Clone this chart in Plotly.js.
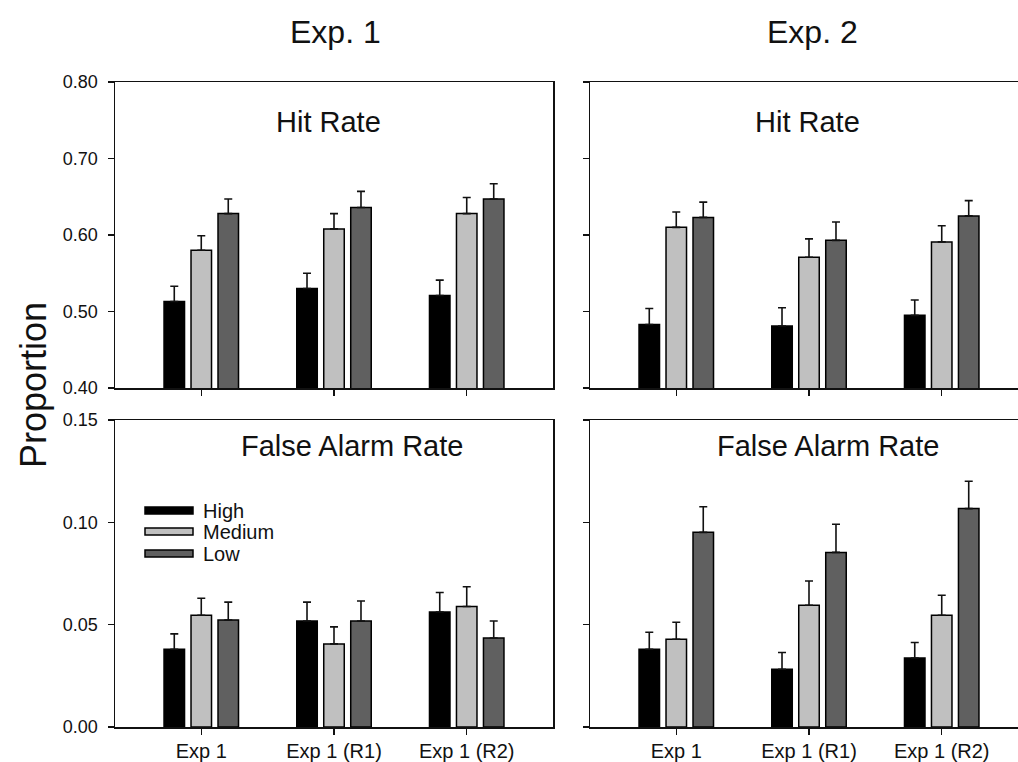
<!DOCTYPE html>
<html>
<head>
<meta charset="utf-8">
<script src="https://cdn.plot.ly/plotly-3.0.1.min.js"></script>
<style>
  html, body { margin: 0; padding: 0; overflow: hidden; background: #fff; }
  #chart { width: 1040px; height: 762px; }
</style>
</head>
<body>
<div id="chart"></div>
<script>
// ---- data ----
const categories = ['Exp 1', 'Exp 1 (R1)', 'Exp 1 (R2)'];
const seriesNames = ['High', 'Medium', 'Low'];

const exp1HitHigh = [0.513, 0.530, 0.521];
const exp1HitHighErr = [0.020, 0.020, 0.020];
const exp1HitMed = [0.580, 0.608, 0.628];
const exp1HitMedErr = [0.019, 0.020, 0.021];
const exp1HitLow = [0.628, 0.636, 0.647];
const exp1HitLowErr = [0.019, 0.021, 0.020];

const exp2HitHigh = [0.483, 0.481, 0.495];
const exp2HitHighErr = [0.021, 0.024, 0.020];
const exp2HitMed = [0.610, 0.571, 0.591];
const exp2HitMedErr = [0.020, 0.024, 0.021];
const exp2HitLow = [0.623, 0.593, 0.625];
const exp2HitLowErr = [0.020, 0.024, 0.020];

const exp1FaHigh = [0.0380, 0.0518, 0.0562];
const exp1FaHighErr = [0.0075, 0.0092, 0.0095];
const exp1FaMed = [0.0546, 0.0406, 0.0589];
const exp1FaMedErr = [0.0083, 0.0083, 0.0096];
const exp1FaLow = [0.0523, 0.0518, 0.0435];
const exp1FaLowErr = [0.0087, 0.0098, 0.0083];

const exp2FaHigh = [0.0380, 0.0282, 0.0337];
const exp2FaHighErr = [0.0083, 0.0082, 0.0076];
const exp2FaMed = [0.0429, 0.0595, 0.0546];
const exp2FaMedErr = [0.0083, 0.0118, 0.0098];
const exp2FaLow = [0.0951, 0.0853, 0.1067];
const exp2FaLowErr = [0.0125, 0.0138, 0.0134];

const hitTicks = [0.4, 0.5, 0.6, 0.7, 0.8];
const faTicks = [0.0, 0.05, 0.10, 0.15];

// ---- style ----
const W = 1040, H = 762;
const colors = ['#000000', '#c0c0c0', '#606060'];
const FONT = 'Arial, "Liberation Sans", sans-serif';
const px = x => x / W;
const py = y => 1 - y / H;

function bar(name, y, err, color, xa, ya) {
  return {
    type: 'bar', name: name, x: categories, y: y,
    xaxis: xa, yaxis: ya, showlegend: false,
    marker: { color: color, line: { color: '#000', width: 1.5 } },
    error_y: { type: 'data', symmetric: false, array: err, arrayminus: err.map(() => 0),
               color: '#111', thickness: 1.6, width: 4 },
    hoverinfo: 'skip'
  };
}

const panels = [
  { xa: 'x',  ya: 'y',  data: [[exp1HitHigh, exp1HitHighErr], [exp1HitMed, exp1HitMedErr], [exp1HitLow, exp1HitLowErr]] },
  { xa: 'x2', ya: 'y2', data: [[exp2HitHigh, exp2HitHighErr], [exp2HitMed, exp2HitMedErr], [exp2HitLow, exp2HitLowErr]] },
  { xa: 'x3', ya: 'y3', data: [[exp1FaHigh, exp1FaHighErr], [exp1FaMed, exp1FaMedErr], [exp1FaLow, exp1FaLowErr]] },
  { xa: 'x4', ya: 'y4', data: [[exp2FaHigh, exp2FaHighErr], [exp2FaMed, exp2FaMedErr], [exp2FaLow, exp2FaLowErr]] }
];

const traces = [];
panels.forEach(p => {
  p.data.forEach((d, i) => traces.push(bar(seriesNames[i], d[0], d[1], colors[i], p.xa, p.ya)));
});

const leftDom = [px(115), px(553)];
const rightDom = [px(590), px(1028)];
const topDom = [py(388), py(82)];
const botDom = [py(727), py(420)];

function xAxis(dom, anchor, labels) {
  return {
    domain: dom, anchor: anchor, type: 'category', range: [-0.65, 2.65],
    showline: true, linecolor: '#111', linewidth: 1.5, mirror: true,
    ticks: 'outside', ticklen: 6, tickwidth: 1.2, tickcolor: '#111',
    showticklabels: labels, tickfont: { family: FONT, size: 20, color: '#111' },
    ticklabelstandoff: -1,
    showgrid: false, zeroline: false, fixedrange: true
  };
}
function yAxis(dom, anchor, range, tickvals, labels) {
  return {
    domain: dom, anchor: anchor, range: range, tickvals: tickvals,
    ticktext: tickvals.map(v => v.toFixed(2)),
    showline: true, linecolor: '#111', linewidth: 1.5, mirror: true,
    ticks: 'outside', ticklen: 6, tickwidth: 1.2, tickcolor: '#111',
    showticklabels: labels, tickfont: { family: FONT, size: 18, color: '#111' },
    ticklabelstandoff: 6,
    showgrid: false, zeroline: false, fixedrange: true
  };
}

const annotations = [
  { text: 'Exp. 1', x: px(335), y: py(32), font: { size: 32 } },
  { text: 'Exp. 2', x: px(812), y: py(32), font: { size: 32 } },
  { text: 'Hit Rate', x: px(328), y: py(122), font: { size: 29 } },
  { text: 'Hit Rate', x: px(807), y: py(122), font: { size: 29 } },
  { text: 'False Alarm Rate', x: px(352), y: py(446), font: { size: 29 } },
  { text: 'False Alarm Rate', x: px(828), y: py(446), font: { size: 29 } },
  { text: 'Proportion', x: px(33), y: py(385), textangle: -90, font: { size: 36 } }
].map(a => Object.assign({ xref: 'paper', yref: 'paper', showarrow: false,
  xanchor: 'center', yanchor: 'middle' }, a, { font: Object.assign({ family: FONT, color: '#111' }, a.font) }));

// legend (drawn manually)
const legendRows = [510.5, 531.5, 553.5];
const shapes = [];
seriesNames.forEach((n, i) => {
  shapes.push({ type: 'rect', xref: 'paper', yref: 'paper',
    x0: px(145), x1: px(193), y0: py(legendRows[i] + 3.5), y1: py(legendRows[i] - 3.5),
    fillcolor: colors[i], line: { color: '#000', width: 1.5 } });
  annotations.push({ text: n, xref: 'paper', yref: 'paper', showarrow: false,
    x: px(201), y: py(legendRows[i]), xanchor: 'left', yanchor: 'middle',
    font: { family: FONT, size: 20, color: '#111' } });
});

const layout = {
  width: W, height: H,
  margin: { l: 0, r: 0, t: 0, b: 0 },
  paper_bgcolor: '#fff', plot_bgcolor: '#fff',
  barmode: 'group', bargap: 0.39, bargroupgap: 0.24,
  showlegend: false,
  xaxis: xAxis(leftDom, 'y', false),
  yaxis: yAxis(topDom, 'x', [0.4, 0.8], hitTicks, true),
  xaxis2: xAxis(rightDom, 'y2', false),
  yaxis2: yAxis(topDom, 'x2', [0.4, 0.8], hitTicks, false),
  xaxis3: xAxis(leftDom, 'y3', true),
  yaxis3: yAxis(botDom, 'x3', [0, 0.15], faTicks, true),
  xaxis4: xAxis(rightDom, 'y4', true),
  yaxis4: yAxis(botDom, 'x4', [0, 0.15], faTicks, false),
  annotations: annotations,
  shapes: shapes
};

Plotly.newPlot('chart', traces, layout, { displayModeBar: false, staticPlot: true });
</script>
</body>
</html>
